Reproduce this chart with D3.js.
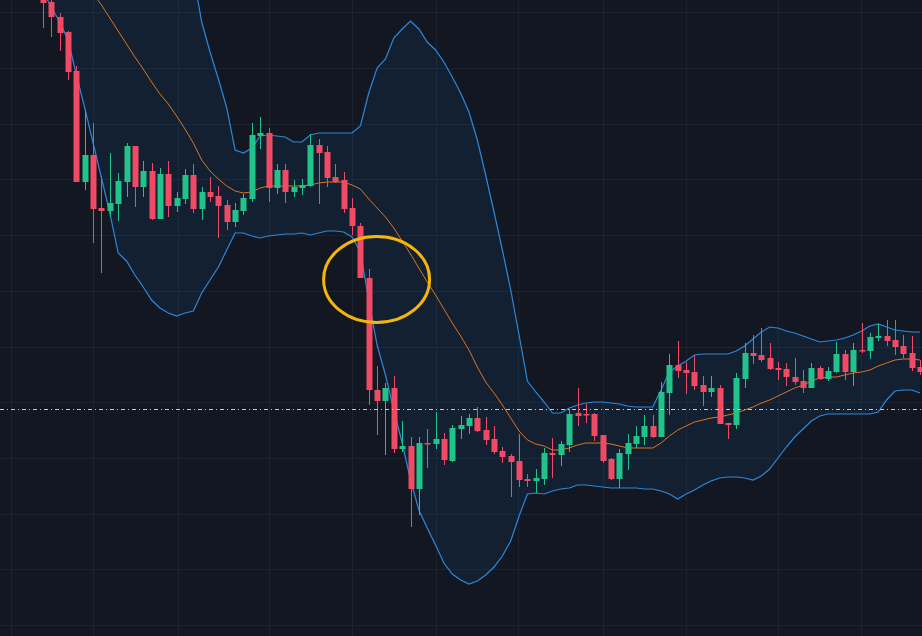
<!DOCTYPE html>
<html>
<head>
<meta charset="utf-8">
<script src="https://cdn.jsdelivr.net/npm/d3@7"></script>
<style>
  html, body { margin: 0; padding: 0; background: #131722; overflow: hidden; }
  svg { display: block; }
</style>
</head>
<body>
<div id="chart"></div>
<script>
// ---- data (price units) ----
const open  = [640,634,619,604,565,454,481,428,425,432,454,490,449,465,417,462,430,437,461,427,444,440,431,414,425,437,500,503,448,466,444,448,450,491,484,459,456,428,410,358,246,235,248,187,190,147,193,192,197,175,207,210,218,206,197,185,180,175,157,155,157,183,181,191,223,222,222,201,177,157,182,192,199,210,199,243,271,266,264,251,244,248,213,211,257,283,281,278,268,267,259,255,248,268,257,264,282,264,286,285,298,300,296,290,283,269];
const high  = [644,636,623,605,570,526,513,460,483,463,493,490,475,473,468,475,444,467,472,449,459,450,436,433,442,513,519,508,472,472,456,457,502,497,490,472,464,438,413,367,270,253,260,215,199,199,207,224,203,211,220,222,229,219,210,189,182,202,162,167,188,198,195,227,248,232,223,201,178,187,202,210,221,221,254,282,295,274,281,260,260,251,213,263,293,301,308,293,274,273,278,266,273,270,269,294,286,293,313,303,312,316,316,301,300,276];
const low   = [608,599,585,556,454,446,393,363,419,415,439,429,439,416,417,419,424,432,423,416,434,398,406,409,421,434,487,434,442,433,439,441,449,432,449,453,423,401,358,231,201,181,183,184,109,121,168,187,171,174,197,202,204,191,182,173,139,149,149,143,151,158,170,184,210,213,195,173,156,148,166,188,191,198,199,221,258,242,246,230,239,212,197,207,248,272,274,266,256,250,251,243,248,256,255,263,256,250,283,277,295,290,281,278,265,261];
const close = [633,619,603,564,454,481,427,425,433,455,490,449,465,417,462,430,438,461,427,444,439,430,414,426,438,501,503,448,466,444,449,451,491,483,458,454,427,410,358,246,235,248,187,190,147,193,192,197,176,208,211,218,205,196,184,179,174,156,155,158,183,181,192,222,220,221,200,175,157,183,193,200,210,199,244,271,265,263,250,244,248,212,211,258,283,280,276,267,266,259,254,248,268,257,265,282,264,286,285,299,300,295,289,282,268,264];

const bbUpper = [798,783,768,760,771,780,791,804,813,827,809,797,785,772,756,741,720,691,661,614,584,557,528,486,483,488,500,501,500,499,494,494,501,503,503,503,503,503,510,543,568,577,598,607,615,607,594,586,574,559,543,524,496,461,424,386,346,301,255,244,234,223,223,228,231,233,234,234,233,232,230,229,229,229,246,264,270,275,281,282,282,282,282,285,290,297,304,309,308,305,303,300,297,294,295,296,298,301,305,310,312,309,306,305,304,304];
const bbBasis = [721,706,691,678,666,654,642,631,618,605,592,579,567,554,542,532,520,507,493,476,465,457,450,445,443,444,448,450,450,450,450,450,451,453,454,454,454,451,447,437,428,419,408,395,382,368,354,341,327,313,300,286,269,254,243,231,218,205,196,192,190,186,186,188,191,193,193,193,192,190,188,188,188,188,193,200,206,210,214,216,218,219,221,223,226,229,233,236,240,244,248,251,255,258,259,259,261,263,264,266,270,273,276,277,277,276];
const bbLower = [644,629,614,596,561,528,493,458,423,383,375,361,349,336,328,323,320,323,325,343,356,369,386,403,403,400,398,400,401,402,402,403,401,403,405,405,404,399,384,336,291,261,226,193,156,126,108,91,73,62,56,52,55,61,69,80,95,120,142,143,142,145,147,148,151,151,150,149,148,148,148,148,147,147,145,142,137,142,146,151,155,158,159,159,158,156,160,167,178,189,199,207,215,220,222,222,222,222,222,222,224,236,245,246,246,243];

const priceLine = 227;                 // dash-dot horizontal price line
const gridBars = [-3.83, 5.98, 16.2, 27.07, 37.0, 47.07, 56.9, 67.07, 77.0, 88.0, 97.9];
const gridPrices = [623.7, 568, 512.3, 456.6, 400.9, 345.2, 289.5, 233.8, 178.1, 122.4, 66.7, 11];
const markBar = [39.94];               // highlighted bar position (ellipse centre)
const markPrice = [356.5];

// ---- layout ----
const W = 922, H = 636;
const x = d3.scaleLinear().domain([0, 105]).range([43, 920]);
const y = d3.scaleLinear().domain([0, 636]).range([636, 0]);

const svg = d3.select("#chart").append("svg").attr("width", W).attr("height", H);
svg.append("rect").attr("width", W).attr("height", H).attr("fill", "#131722");

const data = open.map((o, i) => ({ i, o, h: high[i], l: low[i], c: close[i], u: bbUpper[i], m: bbBasis[i], b: bbLower[i] }));

// grid
const grid = svg.append("g").attr("stroke", "#1d2230").attr("stroke-width", 1);
grid.selectAll("line.v").data(gridBars).join("line")
  .attr("x1", d => Math.round(x(d)) + 0.5).attr("x2", d => Math.round(x(d)) + 0.5)
  .attr("y1", 0).attr("y2", H);
grid.selectAll("line.h").data(gridPrices).join("line")
  .attr("y1", d => Math.round(y(d)) + 0.5).attr("y2", d => Math.round(y(d)) + 0.5)
  .attr("x1", 0).attr("x2", W);

// band fill
svg.append("path").datum(data)
  .attr("fill", "rgba(33,150,243,0.075)")
  .attr("d", d3.area().x(d => x(d.i)).y0(d => y(d.b)).y1(d => y(d.u)));

const line = key => d3.line().x(d => x(d.i)).y(d => y(d[key]));
svg.append("path").datum(data).attr("fill", "none").attr("stroke", "#2c88dc").attr("stroke-width", 1.2).attr("d", line("u"));
svg.append("path").datum(data).attr("fill", "none").attr("stroke", "#2c88dc").attr("stroke-width", 1.2).attr("d", line("b"));
svg.append("path").datum(data).attr("fill", "none").attr("stroke", "#dd7420").attr("stroke-width", 1).attr("d", line("m"));

// candles
const up = "#22c38a", down = "#f04a64";
const cg = svg.append("g");
cg.selectAll("line").data(data).join("line")
  .attr("x1", d => Math.round(x(d.i)) + 0.5).attr("x2", d => Math.round(x(d.i)) + 0.5)
  .attr("y1", d => y(d.h)).attr("y2", d => y(d.l))
  .attr("stroke", d => d.c >= d.o ? up : down).attr("stroke-width", 1);
cg.selectAll("rect").data(data).join("rect")
  .attr("x", d => Math.round(x(d.i)) - 2.5).attr("width", 6)
  .attr("y", d => y(Math.max(d.o, d.c)))
  .attr("height", d => Math.max(1.5, Math.abs(y(d.o) - y(d.c))))
  .attr("fill", d => d.c >= d.o ? up : down);

// price line
svg.append("line")
  .attr("x1", 0).attr("x2", W)
  .attr("y1", Math.round(y(priceLine)) + 0.5).attr("y2", Math.round(y(priceLine)) + 0.5)
  .attr("stroke", "#a6d9d2").attr("stroke-width", 1).attr("stroke-dasharray", "4,3,1,3");

// highlight ellipse
svg.selectAll("ellipse").data(markBar).join("ellipse")
  .attr("cx", d => x(d)).attr("cy", (d, i) => y(markPrice[i]))
  .attr("rx", 53).attr("ry", 43)
  .attr("fill", "none").attr("stroke", "#f4b60c").attr("stroke-width", 3);
</script>
</body>
</html>
